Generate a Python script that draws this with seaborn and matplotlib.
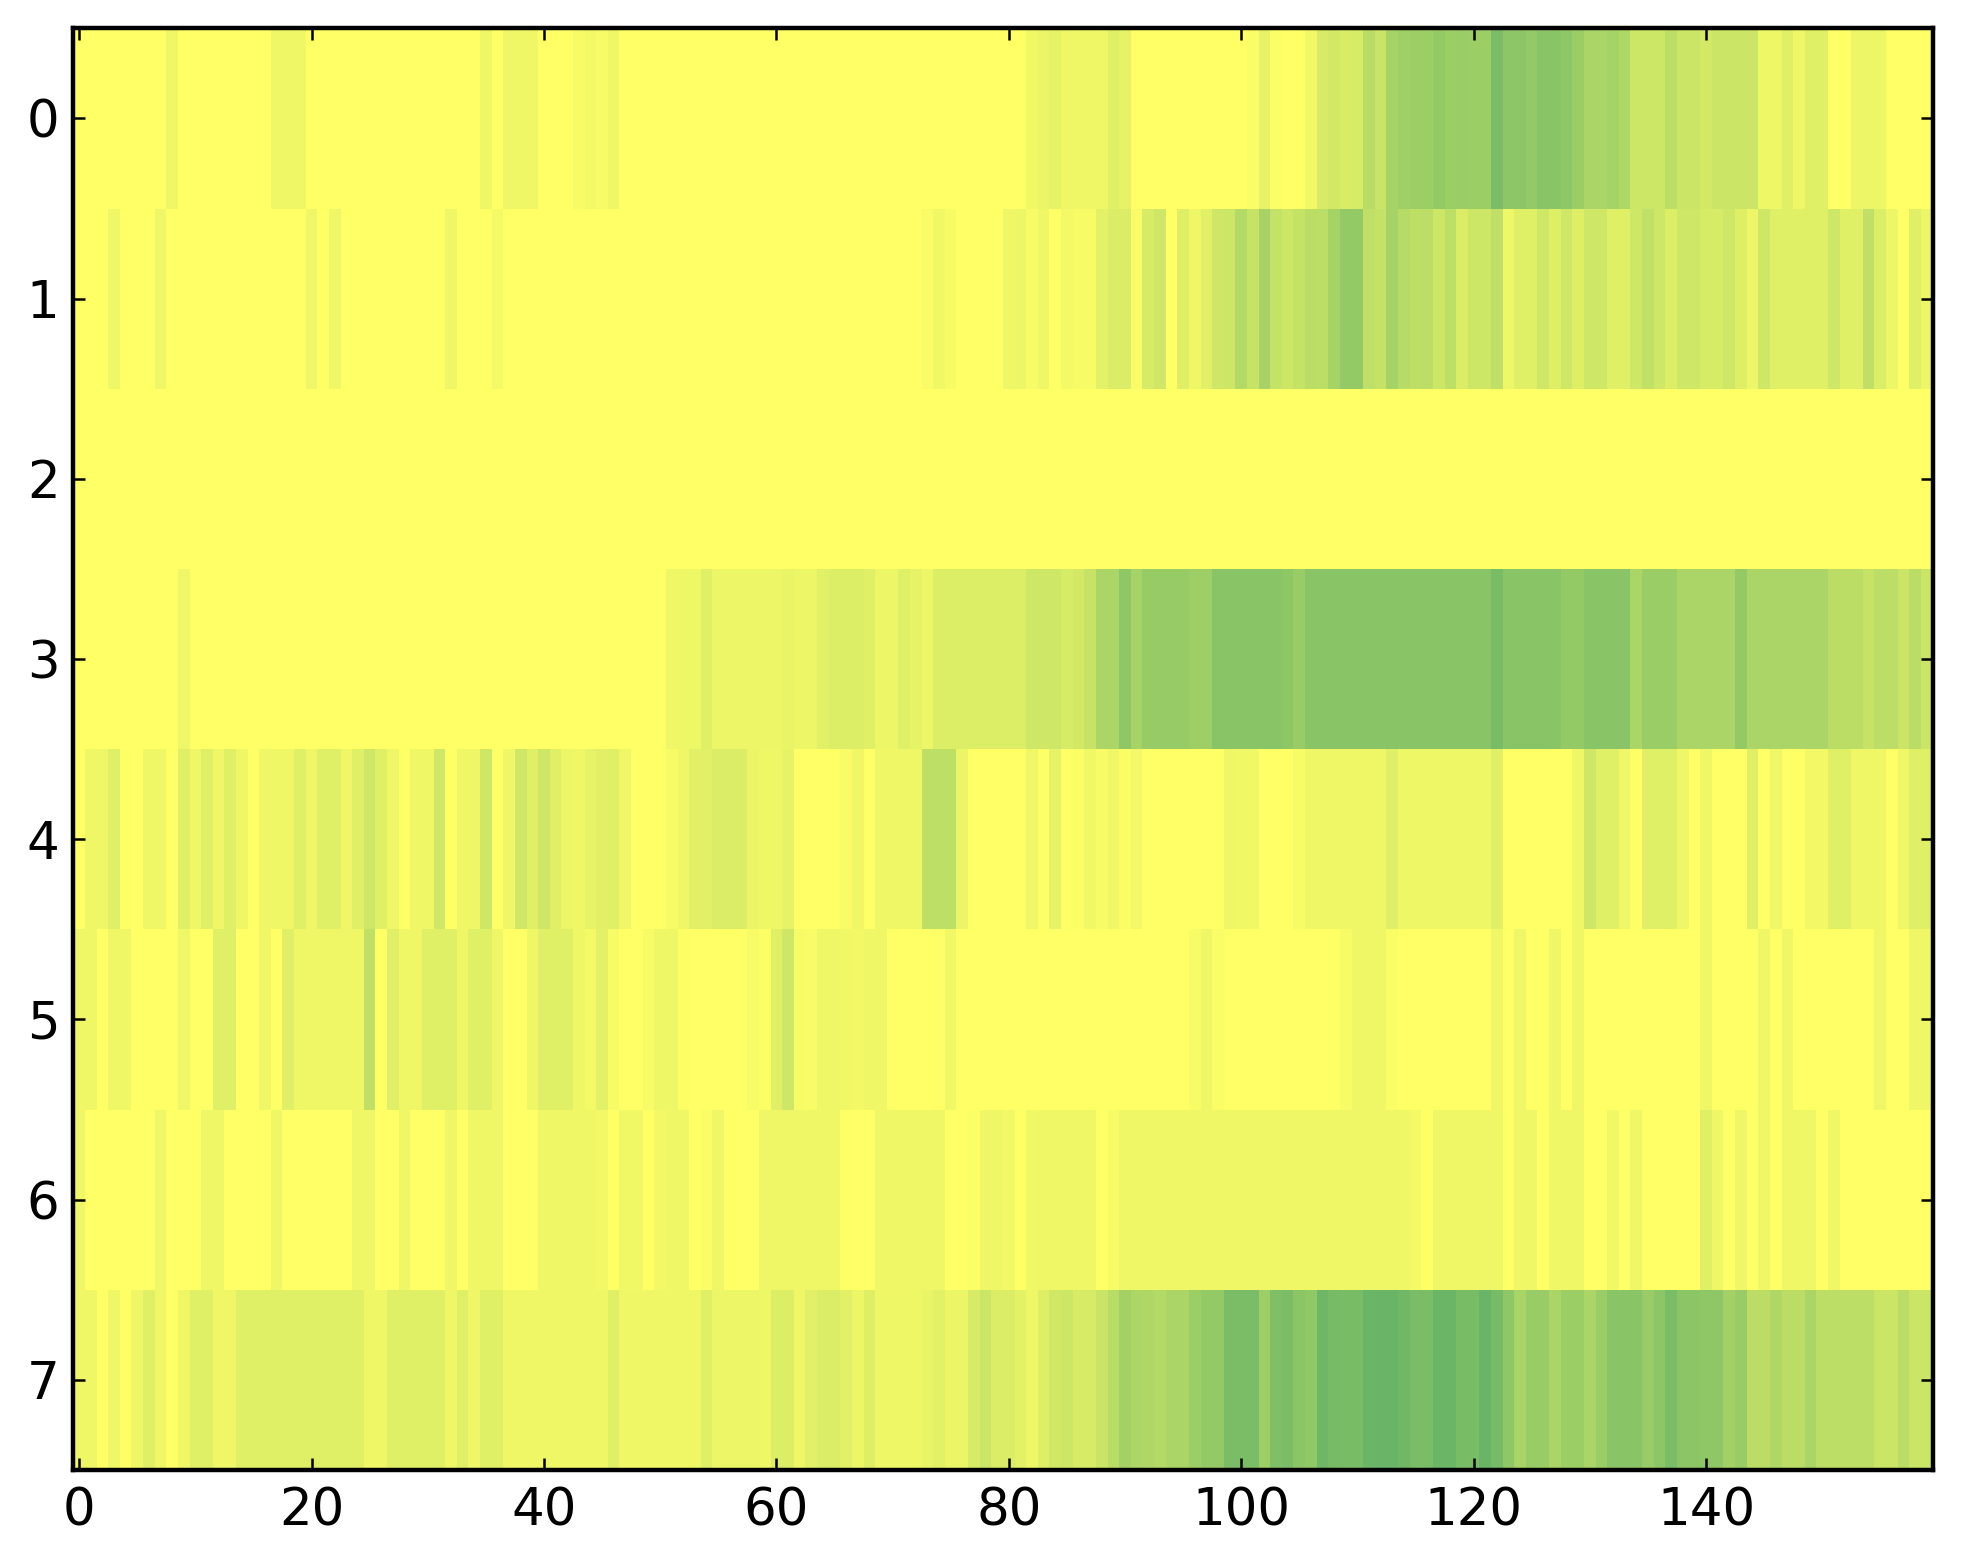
import matplotlib
matplotlib.use("Agg")
import matplotlib.pyplot as plt
import numpy as np
import pandas as pd
import seaborn as sns

row_0 = [
    0,0,0,0,0,0,0,0,1,0,
    0,0,0,0,0,0,0,1,1,1,
    0,0,0,0,0,0,0,0,0,0,
    0,0,0,0,0,1,0,1,1,1,
    0,0,0,.6,.8,.5,1,0,0,0,
    0,0,0,0,0,0,0,0,0,0,
    0,0,0,0,0,0,0,0,0,0,
    0,0,0,0,0,0,0,0,0,0,
    0,0,.9,1.3,1.5,1,1,1,1,2,
    1.5,0,0,0,0,0,0,0,0,0,
    0,.3,1.5,.2,0,0,.8,2.5,2.8,2.4,
    2.6,4.4,3.4,5.6,6,6.2,6.2,6.7,6.2,6.3,
    6.2,6.2,8.3,7.2,7.2,6.8,7.4,7.4,7.1,6.3,
    5.3,5.3,5.6,5,3.2,3.2,3.2,4.2,3.3,3.3,
    2.8,3.3,3.3,3.3,3.3,1.1,1.1,2,1,2,
    2,0,0,1.2,1.2,1.2,0,0,0,0,
]
row_1 = [
    0,0,0,1,0,0,0,1,0,0,
    0,0,0,0,0,0,0,0,0,0,
    1,0,1,0,0,0,0,0,0,0,
    0,0,1,0,0,0,.7,0,0,0,
    0,0,0,0,0,0,0,0,0,0,
    0,0,0,0,0,0,0,0,0,0,
    0,0,0,0,0,0,0,0,0,0,
    0,0,0,.4,.9,.5,0,0,0,0,
    1,1.2,.6,1,0,.7,.5,.5,1.8,2.3,
    2.3,.4,2.6,3,0,2.1,1,1.9,3,3.2,
    4.8,3.5,5.5,3.7,3.2,3.7,4.3,4.2,5.6,6.7,
    6.7,4,3.7,5.6,4.6,4.1,4.2,3.2,4.1,2.3,
    3.2,3.2,4,1.1,2,2,3,2.1,3,2.1,
    3,3,2,2,3,3.9,3.1,2.2,3.1,3.1,
    2.6,2.6,3.1,2.1,1.2,3,2,2,2,2,
    2,3,2,2,4,2.2,1.2,0,2,1.2,
]
row_2 = [
    0,0,0,0,0,0,0,0,0,0,
    0,0,0,0,0,0,0,0,0,0,
    0,0,0,0,0,0,0,0,0,0,
    0,0,0,0,0,0,0,0,0,0,
    0,0,0,0,0,0,0,0,0,0,
    0,0,0,0,0,0,0,0,0,0,
    0,0,0,0,0,0,0,0,0,0,
    0,0,0,0,0,0,0,0,0,0,
    0,0,0,0,0,0,0,0,0,0,
    0,0,0,0,0,0,0,0,0,0,
    0,0,0,0,0,0,0,0,0,0,
    0,0,0,0,0,0,0,0,0,0,
    0,0,0,0,0,0,0,0,0,0,
    0,0,0,0,0,0,0,0,0,0,
    0,0,0,0,0,0,0,0,0,0,
    0,0,0,0,0,0,0,0,0,0,
]
row_3 = [
    0,0,0,0,0,0,0,0,0,1,
    0,0,0,0,0,0,0,0,0,0,
    0,0,0,0,0,0,0,0,0,0,
    0,0,0,0,0,0,0,0,0,0,
    0,0,0,0,0,0,0,0,0,0,
    0,1,1.1,1.1,2,1.2,1.2,1.2,1.2,1.2,
    1.2,1.4,1.2,1.2,1.9,2.2,2.2,2.2,2,1.2,
    1.2,2,1.5,1.2,2.2,2.2,2.2,2.2,2.2,2.2,
    2.2,2.2,3,3,3.1,2.6,2.8,3.6,5.3,5.3,
    7.1,5.6,6.6,6.6,6.6,6.6,6.1,6.1,7.4,7.4,
    7.4,7.4,7.4,7.4,7.1,6.4,7.4,7.4,7.4,7.4,
    7.4,7.4,7.4,7.4,7.4,7.4,7.4,7.4,7.4,7.4,
    7.4,7.4,8.4,7.4,7.4,7.4,7.4,7.4,6.7,6.7,
    7.4,7.4,7.4,7.4,5.3,6.3,6.3,6.3,5.3,5.3,
    5.3,5.3,5.3,6.7,5.3,5.3,5.3,5.3,5.3,5.3,
    5.3,4.3,4.3,4.3,3.5,4.2,4.2,3.3,4.3,3.3,
]
row_4 = [
    0,1,1,2,0,0,1,1,0,2,
    1,2,1,2,1,0,1,1,1,2,
    1,2,2,1,2,3,2,1,0,1,
    1,3,0,1,1,3,0,1,3,2,
    3,2,1.2,1,1.5,1.9,2,1,0,0,
    0,.6,1,1.9,1.9,2.3,2.3,2.3,1.3,1.1,
    1.1,1.5,0,0,0,0,.4,1,0,1,
    1,1,1,4.1,4.1,4.1,1.3,0,0,0,
    0,0,1,0,1.6,0,.2,.9,.6,1,
    .3,.8,0,0,0,0,0,0,0,1,
    .9,.9,0,0,0,.6,1,1,1,1,
    1,1,1,2,1.1,1.1,1.1,1.1,1.1,1.1,
    1.1,1.1,2,0,0,0,0,0,0,1,
    3,2,2,1,0,2,2,2,1,0,
    1,0,0,0,2,0,1,0,0,.8,
    .8,2,2,1,1,1,0,1,2,2,
]
row_5 = [
    1,1,0,1,1,0,0,0,0,1,
    0,0,2,2,0,0,1,0,2,1,
    1,1,1,1,1,4,0,2,1,1,
    2,2,2,1,2,2,1,0,0,1,
    2,2,2,1,.7,1.8,.5,0,0,.6,
    1.1,1.1,.2,0,0,0,0,0,.5,.2,
    2,3,.5,.4,1,1,.9,.8,1,1,
    .1,0,0,0,.1,.9,0,0,0,0,
    0,0,0,0,0,0,0,0,0,0,
    0,0,0,0,0,0,.6,1,.3,0,
    0,0,0,0,0,0,0,0,0,.6,
    1,1,1,.3,0,0,0,0,0,0,
    0,0,1,0,1,0,0,1,0,1,
    0,0,0,0,0,0,0,0,0,0,
    1,0,0,0,0,1,0,1,0,0,
    0,0,0,0,0,1,0,0,1,1,
]
row_6 = [
    1,0,0,0,0,0,0,1,0,0,
    0,1,1,0,0,0,0,1,0,0,
    0,0,0,0,1,1,0,0,1,0,
    0,0,1,0,1,1,1,0,0,0,
    1,1,1,1,1,.8,0,.9,.9,0,
    .8,1,1,0,.3,1,0,0,0,1,
    1,1,1,1,1,1,.1,0,0,1,
    1,1,1,1,1,0,0,.2,1,1,
    .8,0,.9,1,1,1,1,1,0,.6,
    1,1,1,1,1,1,1,1,1,1,
    1,1,1,1,1,1,1,1,1,1,
    1,1,1,1,1,.7,0,1,1,1,
    1,1,1,0,1,1,0,1,1,1,
    0,0,.9,0,1,0,0,0,0,0,
    2,1,0,1,0,1,0,1,1,1,
    0,1,0,0,0,0,0,0,0,0,
]
row_7 = [
    1,1,0,1,0,1,2,1,0,1,
    2,2,1,1,2,2,2,2,2,2,
    2,2,2,2,2,1,1,2,2,2,
    2,2,1,2,1,2,2,1,1,1,
    1,1,1,1,1,1,2,1,1,1,
    1,1,1,1,2,1.2,1.2,1.2,1.2,1.1,
    2.2,2.2,1,1.9,2.3,2.3,1.9,1.2,2.1,1.1,
    1.1,1.1,1.1,1.4,1.8,1.3,1.3,2.5,3.3,2.3,
    2.3,1.8,1.1,2.1,2.9,3.2,2.5,2.5,3.4,4.4,
    5.8,5.2,5,4.8,5.3,5.3,6.2,6.7,6.7,8.3,
    8.3,8.3,6.1,8,8.3,7.3,6.9,9,8.5,8.4,
    8.4,9.3,9.4,9.4,8.9,8.3,8.3,9.3,9.3,8.4,
    8.4,9.4,8.6,7,5.4,6.4,6.4,5.3,6.2,6.2,
    5.3,6.3,7.4,7.4,7.4,6.4,7.2,8.3,7.3,7.3,
    7,7,5.8,6.4,4.3,4.3,5.1,4.3,4.3,5.3,
    4.2,4.2,4.2,4.2,4.2,3.3,3.3,4.3,3.3,3.3,
]
x_ticks = [0, 20, 40, 60, 80, 100, 120, 140]
y_ticks = [0, 1, 2, 3, 4, 5, 6, 7]

rows = [row_0, row_1, row_2, row_3, row_4, row_5, row_6, row_7]
frame = pd.DataFrame(rows, index=y_ticks, columns=range(len(row_0)))

W, H, DPI = 1963, 1564, 200
plt.rcParams["font.family"] = "DejaVu Sans"
fig = plt.figure(figsize=(W / DPI, H / DPI), dpi=DPI, facecolor="white")
ax = fig.add_axes([73.3 / W, 1 - 1470 / H, (1932.6 - 73.3) / W, (1470 - 28.3) / H])

sns.heatmap(frame, ax=ax, cmap="summer_r", vmin=0, vmax=16, cbar=False,
            xticklabels=False, yticklabels=False)

ax.set_xticks([t + 0.5 for t in x_ticks])
ax.set_xticklabels([str(t) for t in x_ticks], rotation=0)
ax.set_yticks([t + 0.5 for t in y_ticks])
ax.set_yticklabels([str(t) for t in y_ticks], rotation=0)
ax.set_xlabel("")
ax.set_ylabel("")
ax.tick_params(axis="both", which="major", direction="in", length=4.2, width=0.9,
               color="black", labelcolor="black", labelsize=18.5,
               top=True, bottom=True, left=True, right=True)
ax.tick_params(axis="x", pad=6)
ax.tick_params(axis="y", pad=5)
for spine in ax.spines.values():
    spine.set_visible(True)
    spine.set_linewidth(1.6)
    spine.set_color("black")

fig.savefig("out.png", dpi=DPI, facecolor="white")
